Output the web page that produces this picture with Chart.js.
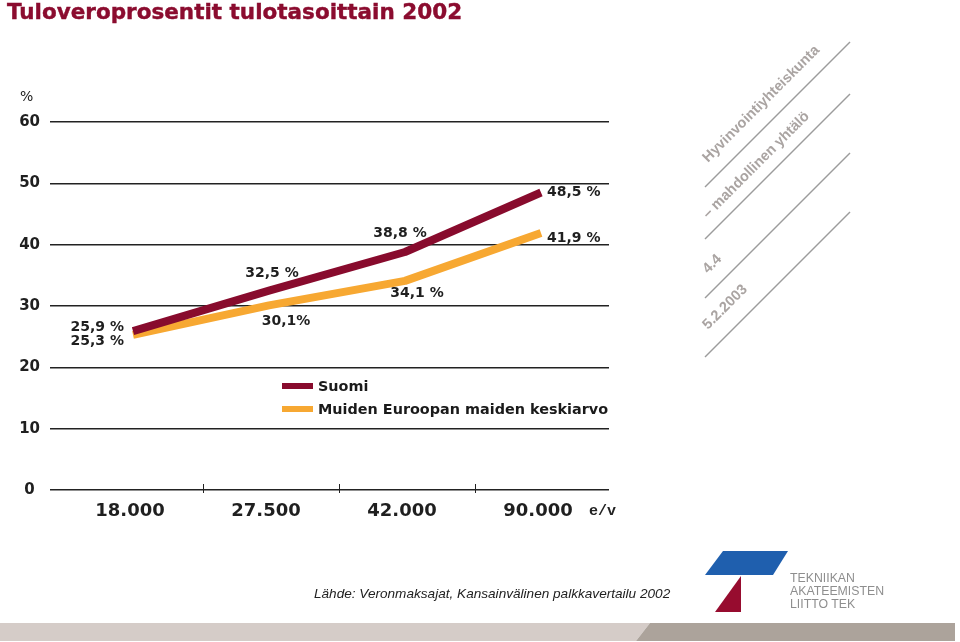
<!DOCTYPE html>
<html><head><meta charset="utf-8">
<script src="https://cdn.jsdelivr.net/npm/chart.js@4.4.1/dist/chart.umd.min.js"></script>
<style>
html,body{margin:0;padding:0;background:#fff;}
#wrap{position:relative;width:960px;height:642px;overflow:hidden;background:#fff;}
#c{position:absolute;left:0;top:0;}
.abs{position:absolute;white-space:nowrap;}
#title{left:7px;top:1px;font:bold 21.5px "DejaVu Sans";line-height:1;color:#8b0c2f;-webkit-text-stroke:0.4px #8b0c2f;}
#pct{left:20px;top:87px;font:14px "DejaVu Sans";color:#222;line-height:18px;}
#unit{left:589px;top:503px;font:bold 15px "Liberation Mono";color:#222;line-height:18px;}
#legend{left:282px;top:375px;font:bold 14.4px "DejaVu Sans";color:#1a1a1a;}
#legend .row{height:22.5px;display:flex;align-items:center;}
#legend .sw{width:31px;height:6px;margin-right:5px;}
#source{left:314px;top:585px;font:italic 13.6px "Liberation Sans";color:#222;line-height:18px;}
#tek{left:790px;top:572px;font:12.3px "Liberation Sans";color:#8e8e8e;line-height:13px;}
svg{position:absolute;left:0;top:0;}
</style></head><body>
<div id="wrap">
<canvas id="c" width="960" height="642"></canvas>
<svg width="960" height="642" viewBox="0 0 960 642">
  <polygon points="0,623 650,623 636,641 0,641" fill="#d5ccc8"/>
  <polygon points="650,623 955,623 955,641 636,641" fill="#aca39b"/>
  <polygon points="723,551 788,551 773,575 705,575" fill="#1f5fae"/>
  <polygon points="741,576 741,612 715,612" fill="#970c2f"/>
  <g stroke="#9c9c9c" stroke-width="1.4">
    <line x1="705" y1="187" x2="850" y2="42"/>
    <line x1="705" y1="239" x2="850" y2="94"/>
    <line x1="705" y1="298" x2="850" y2="153"/>
    <line x1="705" y1="357" x2="850" y2="212"/>
  </g>
  <g font-family="Liberation Sans" font-weight="bold" font-size="14.5" fill="#aaa4a2">
    <text x="708" y="163" transform="rotate(-45 708 163)">Hyvinvointiyhteiskunta</text>
    <text x="708" y="219" transform="rotate(-45 708 219)">– mahdollinen yhtälö</text>
    <text x="708" y="274" transform="rotate(-45 708 274)">4.4</text>
    <text x="708" y="330" transform="rotate(-45 708 330)">5.2.2003</text>
  </g>
</svg>
<div class="abs" id="title">Tuloveroprosentit tulotasoittain 2002</div>
<div class="abs" id="pct">%</div>
<div class="abs" id="unit">e/v</div>
<div class="abs" id="legend"></div>
<div class="abs" id="source">Lähde: Veronmaksajat, Kansainvälinen palkkavertailu 2002</div>
<div class="abs" id="tek">TEKNIIKAN<br>AKATEEMISTEN<br>LIITTO TEK</div>
</div>
<script>
// ---- data ----
const categories = ['18.000', '27.500', '42.000', '90.000'];
const seriesNames = ['Suomi', 'Muiden Euroopan maiden keskiarvo'];
const suomi = [25.9, 32.5, 38.8, 48.5];
const eurooppa = [25.3, 30.1, 34.1, 41.9];
const yMin = 0, yMax = 60, yStep = 10;

// ---- styling / placement ----
const colors = ['#880b2d', '#f7a832'];
const labelSuffix = [[' %', ' %', ' %', ' %'], [' %', '%', ' %', ' %']];
const labelPlacement = [
  [{dx:-9,dy:-4,align:'right'},{dx:3,dy:-17,align:'center'},{dx:-5,dy:-19,align:'center'},{dx:6,dy:0,align:'left'}],
  [{dx:-9,dy:7,align:'right'},{dx:17,dy:16,align:'center'},{dx:12,dy:13,align:'center'},{dx:6,dy:5,align:'left'}]
];

// legend built from the series
const legendEl = document.getElementById('legend');
seriesNames.forEach((n, i) => {
  const row = document.createElement('div'); row.className = 'row';
  const sw = document.createElement('div'); sw.className = 'sw'; sw.style.background = colors[i];
  const t = document.createElement('span'); t.textContent = n;
  row.appendChild(sw); row.appendChild(t); legendEl.appendChild(row);
});

const fmt = v => v.toFixed(1).replace('.', ',');

const valueLabels = {
  id: 'valueLabels',
  afterDatasetsDraw(chart) {
    const ctx = chart.ctx;
    ctx.save();
    ctx.font = 'bold 14px "DejaVu Sans"';
    ctx.fillStyle = '#1f1f1f';
    ctx.textBaseline = 'middle';
    chart.data.datasets.forEach((ds, di) => {
      const meta = chart.getDatasetMeta(di);
      meta.data.forEach((pt, i) => {
        const p = labelPlacement[di][i];
        ctx.textAlign = p.align;
        ctx.fillText(fmt(ds.data[i]) + labelSuffix[di][i], pt.x + p.dx, pt.y + p.dy);
      });
    });
    ctx.restore();
  }
};

const boundaryTicks = {
  id: 'boundaryTicks',
  afterDraw(chart) {
    const xs = chart.scales.x, ys = chart.scales.y, ctx = chart.ctx;
    const y0 = ys.getPixelForValue(0);
    ctx.save();
    ctx.strokeStyle = '#222'; ctx.lineWidth = 1;
    for (let i = 0; i < categories.length - 1; i++) {
      const px = Math.round((xs.getPixelForValue(i) + xs.getPixelForValue(i + 1)) / 2) + 2.5;
      ctx.beginPath(); ctx.moveTo(px, y0 - 6); ctx.lineTo(px, y0 + 3); ctx.stroke();
    }
    ctx.restore();
  }
};

new Chart(document.getElementById('c'), {
  type: 'line',
  data: {
    labels: categories,
    datasets: [
      {label: seriesNames[0], data: suomi, borderColor: colors[0], backgroundColor: colors[0],
       borderWidth: 8, pointRadius: 0, tension: 0, borderCapStyle: 'butt', borderJoinStyle: 'round', fill: false},
      {label: seriesNames[1], data: eurooppa, borderColor: colors[1], backgroundColor: colors[1],
       borderWidth: 8, pointRadius: 0, tension: 0, borderCapStyle: 'butt', borderJoinStyle: 'round', fill: false}
    ]
  },
  options: {
    responsive: false, animation: false, devicePixelRatio: 1,
    layout: {padding: {left: 0, right: 351, top: 122, bottom: 112}},
    plugins: {legend: {display: false}, title: {display: false}, tooltip: {enabled: false}},
    scales: {
      x: {
        type: 'category', offset: true,
        grid: {display: false, drawTicks: false},
        border: {display: false},
        ticks: {font: {family: 'DejaVu Sans', weight: 'bold', size: 18}, color: '#1f1f1f',
                padding: 11, maxRotation: 0, autoSkip: false, labelOffset: -3},
        afterFit(s) { s.height = 40; }
      },
      y: {
        min: yMin, max: yMax,
        grid: {color: '#222', lineWidth: 1.5, drawTicks: true, tickLength: 15, tickColor: '#222', tickWidth: 1.5},
        border: {display: false},
        ticks: {stepSize: yStep, font: {family: 'DejaVu Sans', weight: 'bold', size: 15}, color: '#1f1f1f',
                crossAlign: 'center', padding: 10},
        afterFit(s) { s.width = 65; }
      }
    }
  },
  plugins: [valueLabels, boundaryTicks]
});
</script>
</body></html>
